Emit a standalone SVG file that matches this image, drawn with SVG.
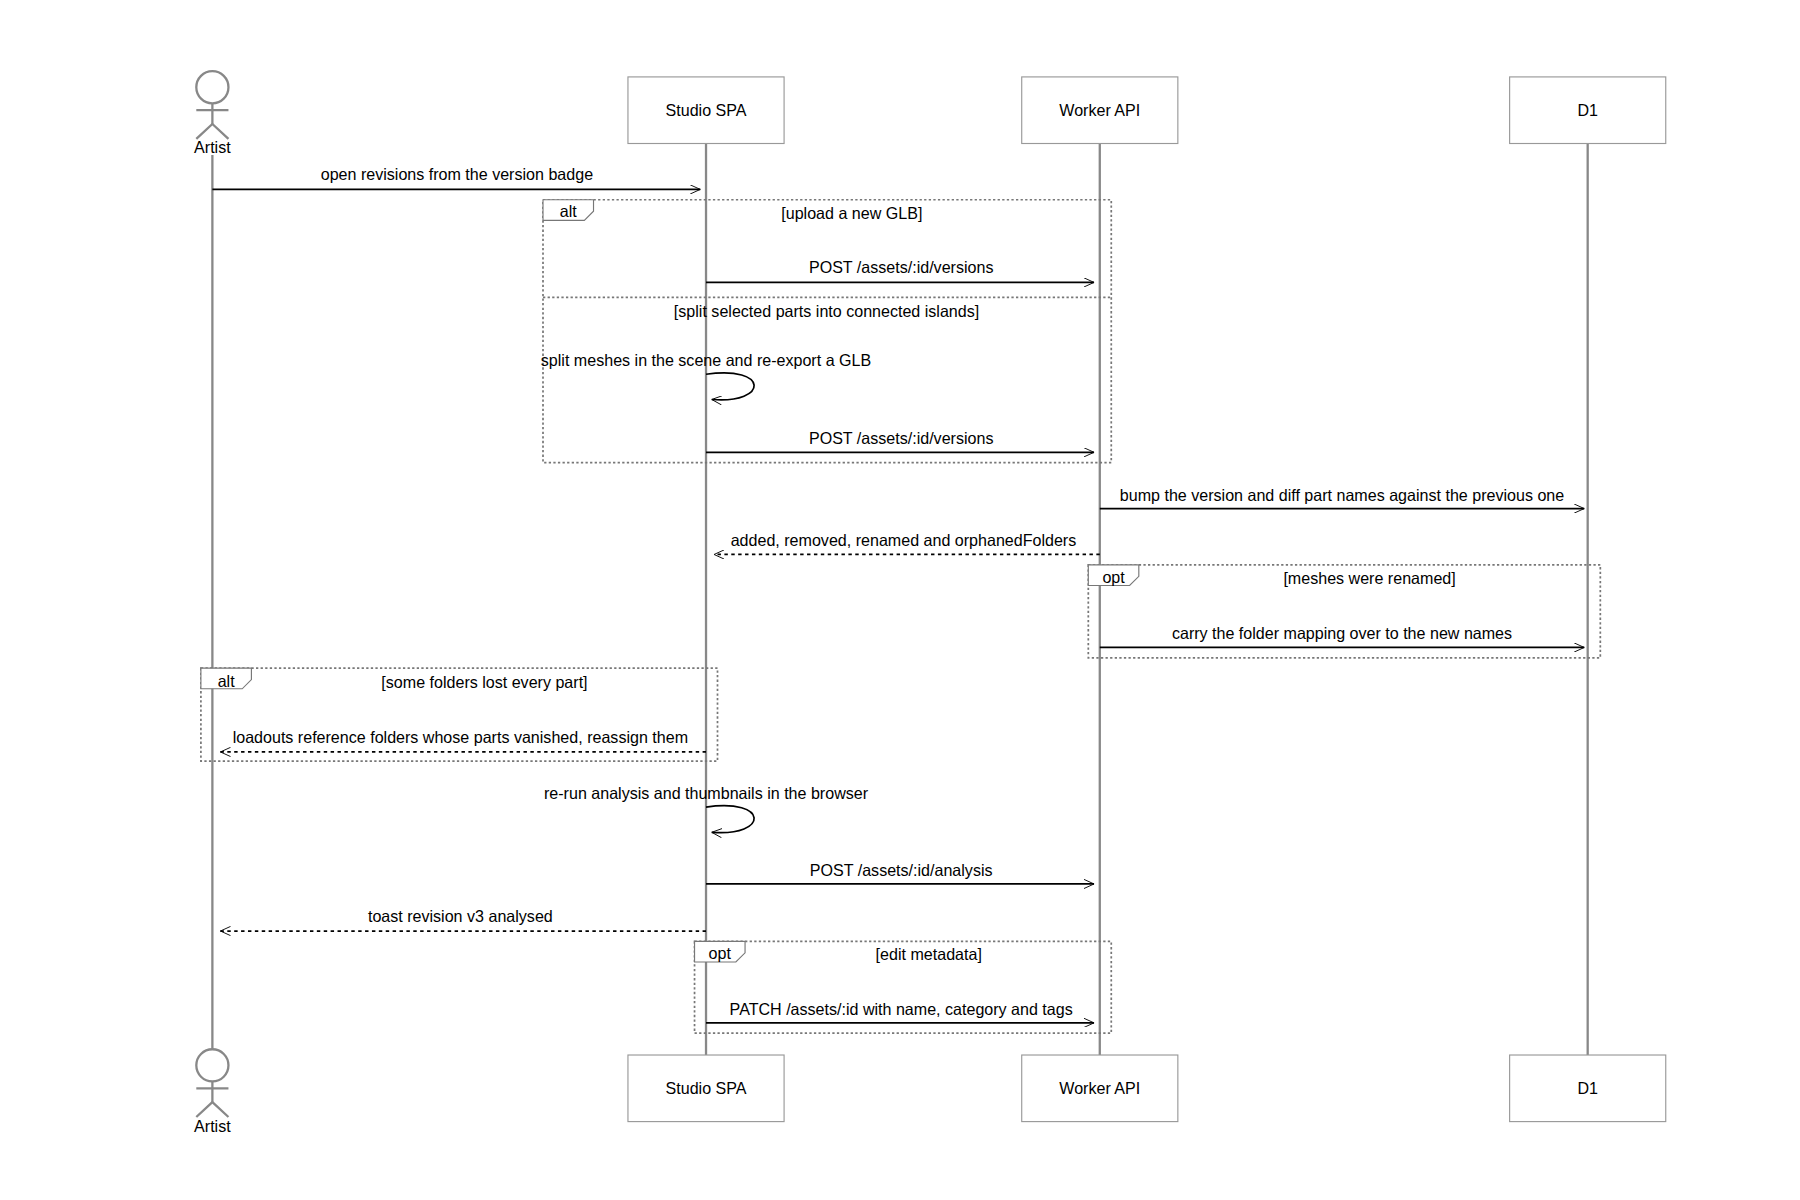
<svg xmlns="http://www.w3.org/2000/svg" width="1800" height="1200" viewBox="0 0 1800 1200">
<style>
text{font-family:"Liberation Sans","DejaVu Sans",sans-serif;font-size:14px;fill:#000;text-anchor:middle}
.box{fill:#fff;stroke:#999;stroke-width:1}
.life{stroke:#888;stroke-width:2}
.msg{stroke:#000;stroke-width:1.5;fill:none}
.dash{stroke-dasharray:3,3}
.frame{fill:none;stroke:#777;stroke-width:1.5;stroke-dasharray:2,2}
.tab{fill:#fff;stroke:#777;stroke-width:1}
.actor{fill:#fff;stroke:#888;stroke-width:2}
</style>
<defs>
<marker id="arr" viewBox="0 0 12 10" refX="11" refY="5" markerWidth="10" markerHeight="8" orient="auto" markerUnits="userSpaceOnUse">
<path d="M0,0 L11,5 L0,10" fill="none" stroke="#000" stroke-width="1"/>
</marker>
</defs>
<g transform="scale(1.148)">
<g id="lifelines">
<line class="life" x1="185" y1="135" x2="185" y2="919"/>
<line class="life" x1="615" y1="125" x2="615" y2="919"/>
<line class="life" x1="958" y1="125" x2="958" y2="919"/>
<line class="life" x1="1383" y1="125" x2="1383" y2="919"/>
</g>
<g id="artist-top">
<circle class="actor" cx="185" cy="76" r="14"/>
<line class="actor" x1="185" y1="90" x2="185" y2="108"/>
<line class="actor" x1="171" y1="96" x2="199" y2="96"/>
<path class="actor" fill="none" d="M171,121 L185,108 L199,121"/>
<text x="185" y="133">Artist</text>
</g>
<g id="artist-bottom">
<circle class="actor" cx="185" cy="928" r="14"/>
<line class="actor" x1="185" y1="942" x2="185" y2="960"/>
<line class="actor" x1="171" y1="948" x2="199" y2="948"/>
<path class="actor" fill="none" d="M171,973 L185,960 L199,973"/>
<text x="185" y="986">Artist</text>
</g>
<g id="studio-top"><rect class="box" x="547" y="67" width="136" height="58"/><text x="615" y="101">Studio SPA</text></g>
<g id="worker-top"><rect class="box" x="890" y="67" width="136" height="58"/><text x="958" y="101">Worker API</text></g>
<g id="d1-top"><rect class="box" x="1315" y="67" width="136" height="58"/><text x="1383" y="101">D1</text></g>
<g id="studio-bottom"><rect class="box" x="547" y="919" width="136" height="58"/><text x="615" y="953">Studio SPA</text></g>
<g id="worker-bottom"><rect class="box" x="890" y="919" width="136" height="58"/><text x="958" y="953">Worker API</text></g>
<g id="d1-bottom"><rect class="box" x="1315" y="919" width="136" height="58"/><text x="1383" y="953">D1</text></g>
<g id="frames">
<rect class="frame" x="473" y="174" width="495" height="229"/>
<line class="frame" x1="473" y1="259" x2="968" y2="259"/>
<path class="tab" d="M473,174 H517 V184 L509,192 H473 Z"/>
<text x="495" y="189">alt</text>
<text x="742" y="191">[upload a new GLB]</text>
<text x="720" y="276">[split selected parts into connected islands]</text>
<rect class="frame" x="948" y="492" width="446" height="81"/>
<path class="tab" d="M948,492 H992 V502 L984,510 H948 Z"/>
<text x="970" y="508">opt</text>
<text x="1193" y="509">[meshes were renamed]</text>
<rect class="frame" x="175" y="582" width="450" height="81"/>
<path class="tab" d="M175,582 H219 V592 L211,600 H175 Z"/>
<text x="197" y="598">alt</text>
<text x="422" y="599">[some folders lost every part]</text>
<rect class="frame" x="605" y="820" width="363" height="80"/>
<path class="tab" d="M605,820 H649 V830 L641,838 H605 Z"/>
<text x="627" y="835">opt</text>
<text x="809" y="836">[edit metadata]</text>
</g>
<g id="connectors">
<line class="msg" x1="185" y1="165" x2="610" y2="165" marker-end="url(#arr)"/>
<text x="398" y="157">open revisions from the version badge</text>
<line class="msg" x1="615" y1="246" x2="953" y2="246" marker-end="url(#arr)"/>
<text x="785" y="238">POST /assets/:id/versions</text>
<path class="msg" d="M615,326 C670,318 670,352 620,348" marker-end="url(#arr)"/>
<text x="615" y="319">split meshes in the scene and re-export a GLB</text>
<line class="msg" x1="615" y1="394" x2="953" y2="394" marker-end="url(#arr)"/>
<text x="785" y="387">POST /assets/:id/versions</text>
<line class="msg" x1="958" y1="443" x2="1380" y2="443" marker-end="url(#arr)"/>
<text x="1169" y="436">bump the version and diff part names against the previous one</text>
<line class="msg dash" x1="958" y1="483" x2="622" y2="483" marker-end="url(#arr)"/>
<text x="787" y="476">added, removed, renamed and orphanedFolders</text>
<line class="msg" x1="958" y1="564" x2="1380" y2="564" marker-end="url(#arr)"/>
<text x="1169" y="557">carry the folder mapping over to the new names</text>
<line class="msg dash" x1="615" y1="655" x2="192" y2="655" marker-end="url(#arr)"/>
<text x="401" y="647">loadouts reference folders whose parts vanished, reassign them</text>
<path class="msg" d="M615,703 C670,695 670,729 620,725" marker-end="url(#arr)"/>
<text x="615" y="696">re-run analysis and thumbnails in the browser</text>
<line class="msg" x1="615" y1="770" x2="953" y2="770" marker-end="url(#arr)"/>
<text x="785" y="763">POST /assets/:id/analysis</text>
<line class="msg dash" x1="615" y1="811" x2="192" y2="811" marker-end="url(#arr)"/>
<text x="401" y="803">toast revision v3 analysed</text>
<line class="msg" x1="615" y1="891" x2="953" y2="891" marker-end="url(#arr)"/>
<text x="785" y="884">PATCH /assets/:id with name, category and tags</text>
</g>
</g>
</svg>
